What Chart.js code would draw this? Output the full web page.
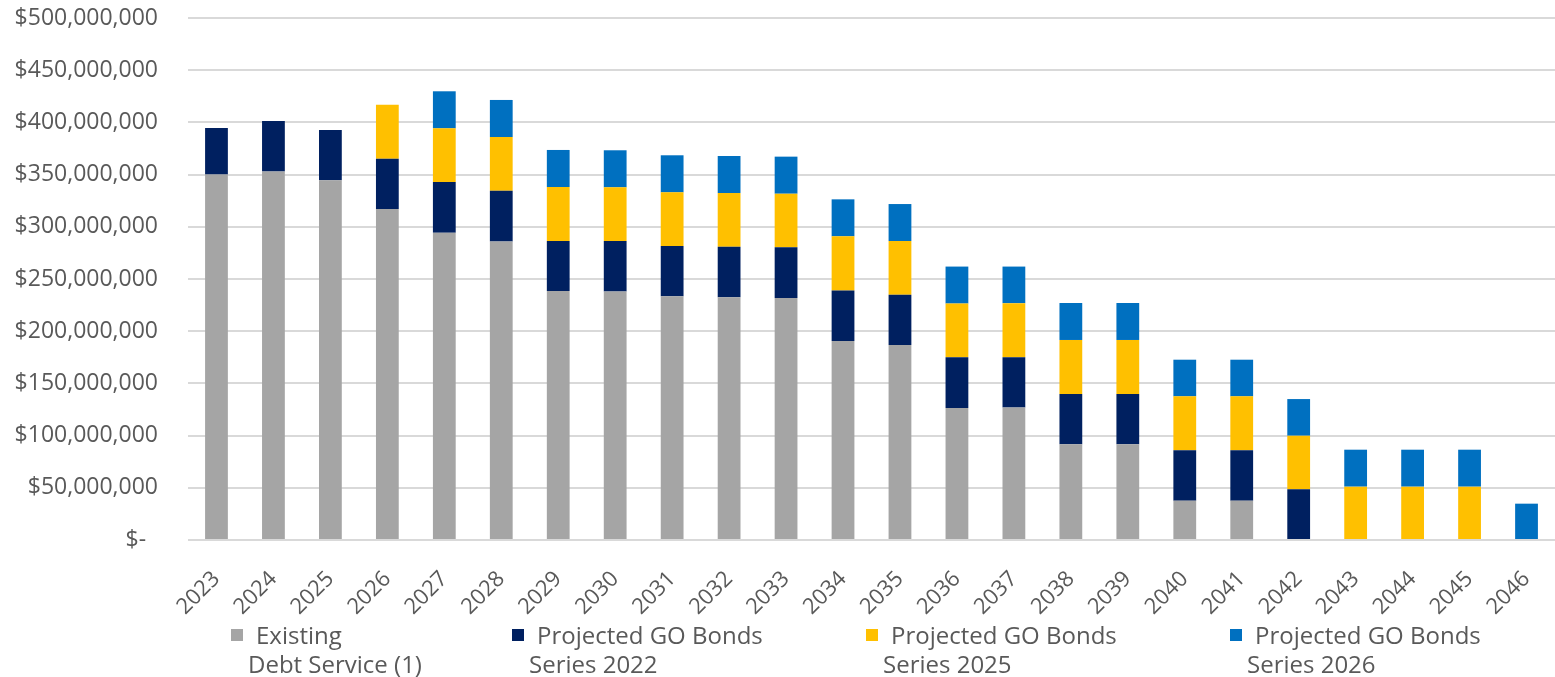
<!DOCTYPE html>
<html>
<head>
<meta charset="utf-8">
<script src="https://cdn.jsdelivr.net/npm/chart.js@4.4.1/dist/chart.umd.min.js"></script>
<style>
  body { margin: 0; background: #fff; }
  #wrap { position: relative; width: 1555px; height: 677px; }
  #chartBox { position: absolute; left: 0; top: 0; width: 1555px; height: 677px; }
  .legend-item { position: absolute; top: 620px; font-family: "Open Sans", "Liberation Sans", sans-serif;
                 font-size: 24px; line-height: 29px; color: #595959; white-space: nowrap; }
  .legend-box { position: absolute; left: 0; top: 9px; width: 12px; height: 12px; }
  .legend-text { margin-left: 17px; }
  .legend-text .first { padding-left: 8px; }
</style>
</head>
<body>
<div id="wrap">
  <div id="chartBox"><canvas id="debtChart"></canvas></div>
  <div id="legend"></div>
</div>
<script>
// values in $ millions
var years = ['2023', '2024', '2025', '2026', '2027', '2028', '2029', '2030', '2031', '2032', '2033', '2034',
             '2035', '2036', '2037', '2038', '2039', '2040', '2041', '2042', '2043', '2044', '2045', '2046'];
var existingDebt = [350, 353, 344.5, 317, 294.3, 286, 238.5, 238, 233.4, 232.5, 231.8, 190.6,
                    186.8, 126.5, 126.8, 91.6, 91.6, 37.7, 37.7, 0, 0, 0, 0, 0];
var series2022 = [44.6, 48.3, 48.2, 48.2, 48.7, 48.6, 47.9, 48.4, 48.2, 48.5, 48.5, 48.5,
                  48.2, 48.5, 48.2, 48.2, 48.2, 48.2, 48.2, 48.5, 0, 0, 0, 0];
var series2025 = [0, 0, 0, 51.8, 51.3, 51.4, 51.7, 51.4, 51.4, 51.4, 51.4, 51.8,
                  51.4, 51.5, 51.8, 51.8, 51.8, 51.7, 51.7, 51.4, 51.1, 51.1, 51.1, 0];
var series2026 = [0, 0, 0, 0, 35.5, 35.5, 35.5, 35.5, 35.5, 35.4, 35.5, 35.4,
                  35.4, 35.4, 35.1, 35.4, 35.4, 35.1, 35.1, 35.1, 35.4, 35.4, 35.4, 34.8];
var seriesNames = ['Existing Debt Service (1)', 'Projected GO Bonds Series 2022',
                   'Projected GO Bonds Series 2025', 'Projected GO Bonds Series 2026'];
var legendText = [
  ['Existing', 'Debt Service (1)'],
  ['Projected GO Bonds', 'Series 2022'],
  ['Projected GO Bonds', 'Series 2025'],
  ['Projected GO Bonds', 'Series 2026']
];
var seriesColors = ['#a5a5a5', '#002060', '#ffc000', '#0070c0'];
var yMax = 500;
var yStep = 50;

var textColor = '#595959';
var fontFamily = '"Open Sans", "Liberation Sans", sans-serif';

function toDollars(arr) {
  return arr.map(function(v) { return v * 1e6; });
}

var allSeries = [existingDebt, series2022, series2025, series2026];
var datasets = allSeries.map(function(vals, i) {
  return { label: seriesNames[i], data: toDollars(vals), backgroundColor: seriesColors[i] };
});

var ctx = document.getElementById('debtChart');
var debtChart = new Chart(ctx, {
  type: 'bar',
  data: { labels: years, datasets: datasets },
  options: {
    responsive: true,
    maintainAspectRatio: false,
    animation: false,
    datasets: {
      bar: { barPercentage: 0.4, categoryPercentage: 1.0, borderWidth: 0 }
    },
    layout: { padding: { left: 13, right: 0, top: 18, bottom: 57 } },
    plugins: {
      tooltip: { enabled: false },
      legend: { display: false }
    },
    scales: {
      x: {
        stacked: true,
        grid: { display: false, drawTicks: false },
        border: { display: false },
        ticks: {
          color: textColor,
          font: { family: fontFamily, size: 22 },
          minRotation: 45,
          maxRotation: 45,
          autoSkip: false,
          padding: 26
        },
        afterFit: function(scale) {
          scale.paddingLeft = 0;
          scale.paddingRight = 0;
          scale.height = 80;
        }
      },
      y: {
        stacked: true,
        min: 0,
        max: yMax * 1e6,
        border: { display: false },
        grid: { color: '#d9d9d9', lineWidth: 2, drawTicks: false },
        ticks: {
          stepSize: yStep * 1e6,
          color: textColor,
          font: { family: fontFamily, size: 23 },
          padding: 30,
          callback: function(value) {
            if (value === 0) return '$-  ';
            return '$' + value.toLocaleString('en-US');
          }
        },
        afterFit: function(scale) {
          scale.paddingTop = 0;
          scale.paddingBottom = 0;
          scale.width = 175;
        }
      }
    }
  }
});

// legend drawn as html, one item per series
var legendLeft = [231, 512, 866, 1230];
var legendEl = document.getElementById('legend');
legendText.forEach(function(lines, i) {
  var item = document.createElement('div');
  item.className = 'legend-item';
  item.style.left = legendLeft[i] + 'px';
  item.innerHTML = '<div class="legend-box" style="background:' + seriesColors[i] + '"></div>' +
    '<div class="legend-text"><div class="first">' + lines[0] + '</div><div>' + lines[1] + '</div></div>';
  legendEl.appendChild(item);
});
</script>
</body>
</html>
